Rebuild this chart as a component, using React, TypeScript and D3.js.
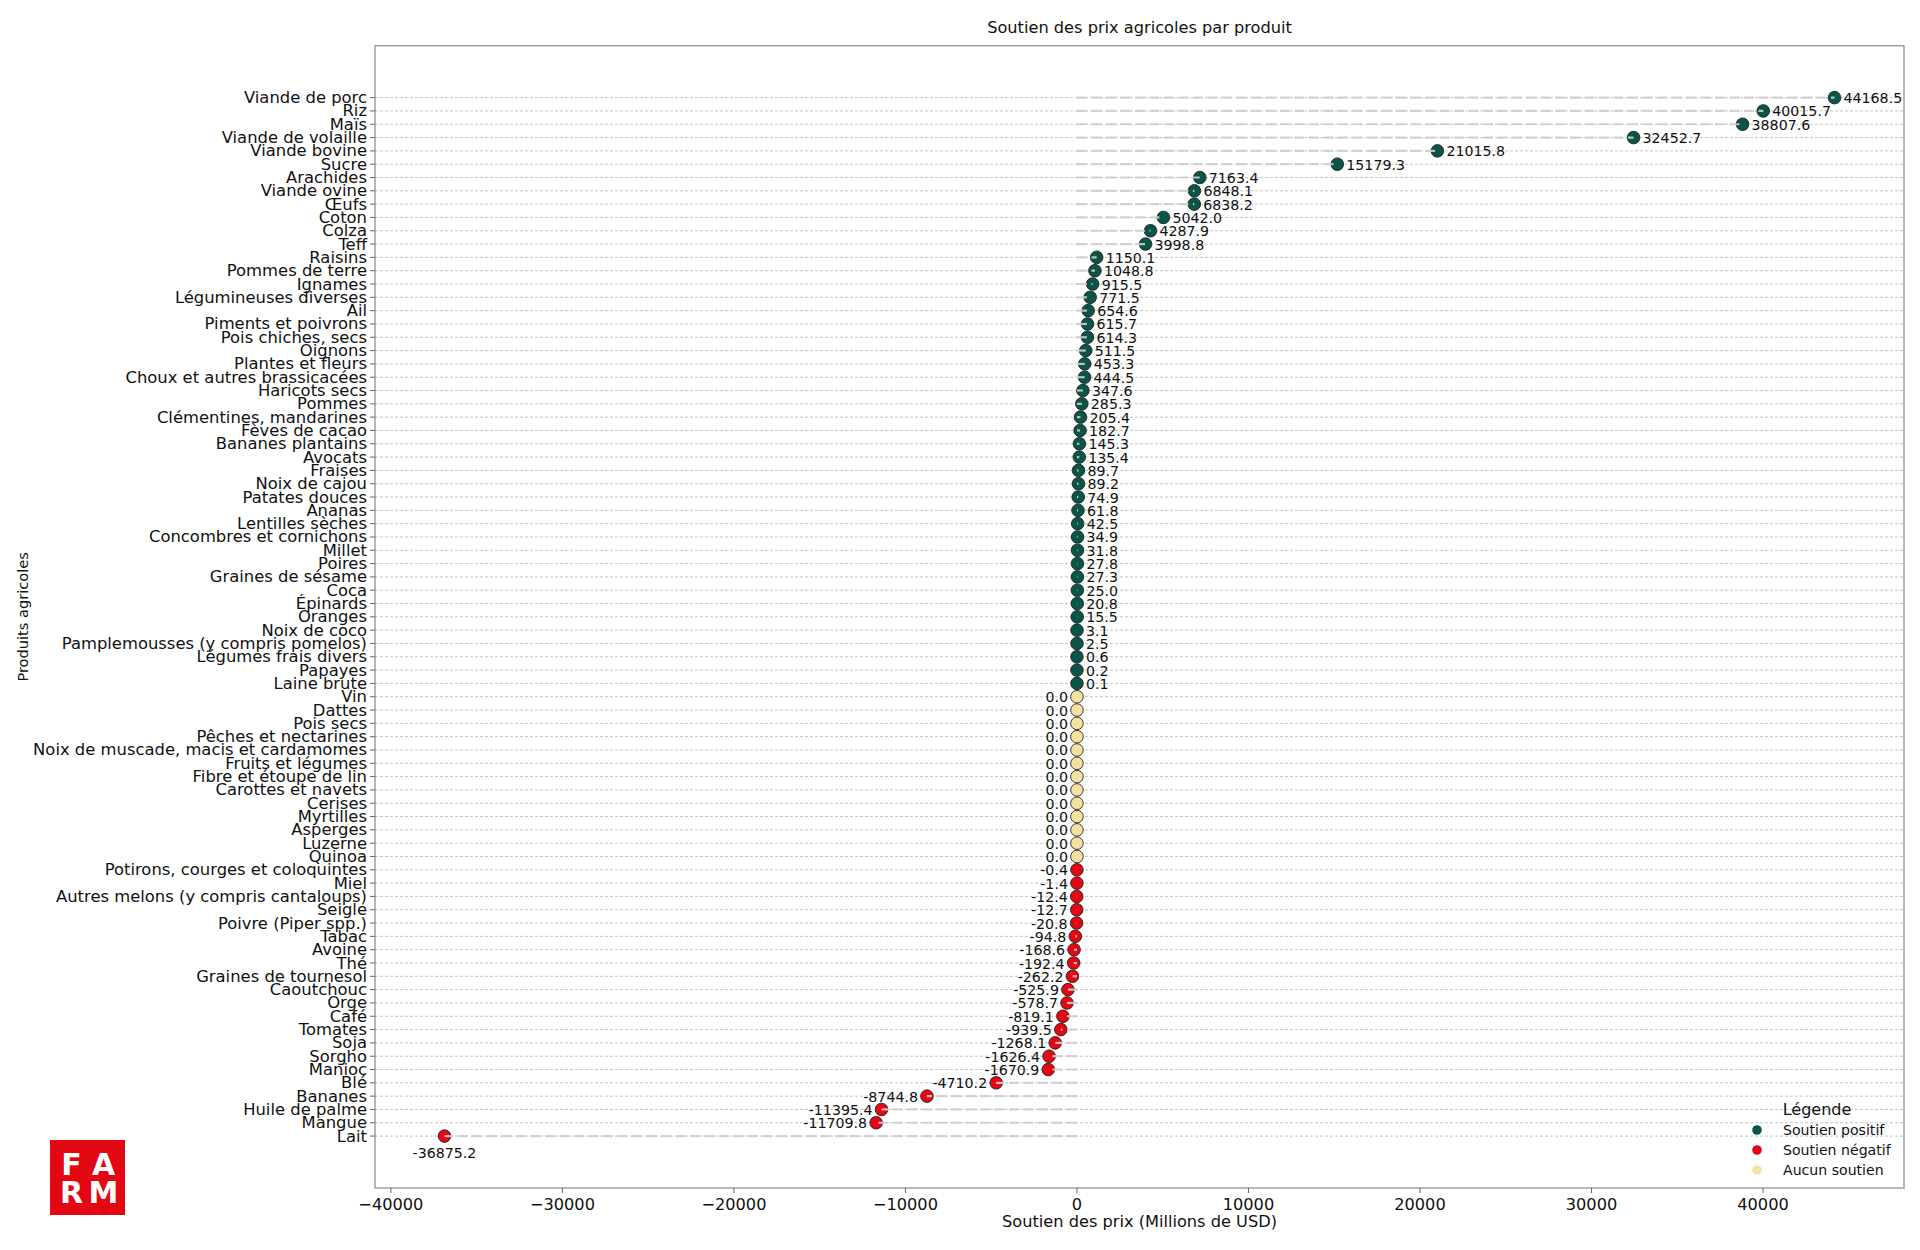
import React from "react";
import * as d3 from "d3";

const categories: string[] = [
  "Viande de porc", "Riz", "Maïs", "Viande de volaille", "Viande bovine", "Sucre", "Arachides",
  "Viande ovine", "Œufs", "Coton", "Colza", "Teff", "Raisins", "Pommes de terre", "Ignames",
  "Légumineuses diverses", "Ail", "Piments et poivrons", "Pois chiches, secs", "Oignons",
  "Plantes et fleurs", "Choux et autres brassicacées", "Haricots secs", "Pommes",
  "Clémentines, mandarines", "Fèves de cacao", "Bananes plantains", "Avocats", "Fraises",
  "Noix de cajou", "Patates douces", "Ananas", "Lentilles sèches", "Concombres et cornichons",
  "Millet", "Poires", "Graines de sésame", "Coca", "Épinards", "Oranges", "Noix de coco",
  "Pamplemousses (y compris pomelos)", "Légumes frais divers", "Papayes", "Laine brute",
  "Vin", "Dattes", "Pois secs", "Pêches et nectarines", "Noix de muscade, macis et cardamomes",
  "Fruits et légumes", "Fibre et étoupe de lin", "Carottes et navets", "Cerises", "Myrtilles",
  "Asperges", "Luzerne", "Quinoa", "Potirons, courges et coloquintes", "Miel",
  "Autres melons (y compris cantaloups)", "Seigle", "Poivre (Piper spp.)", "Tabac", "Avoine",
  "Thé", "Graines de tournesol", "Caoutchouc", "Orge", "Café", "Tomates", "Soja", "Sorgho",
  "Manioc", "Blé", "Bananes", "Huile de palme", "Mangue", "Lait",
];

const values: number[] = [
  44168.5, 40015.7, 38807.6, 32452.7, 21015.8, 15179.3, 7163.4, 6848.1, 6838.2, 5042.0,
  4287.9, 3998.8, 1150.1, 1048.8, 915.5, 771.5, 654.6, 615.7, 614.3, 511.5, 453.3, 444.5,
  347.6, 285.3, 205.4, 182.7, 145.3, 135.4, 89.7, 89.2, 74.9, 61.8, 42.5, 34.9, 31.8, 27.8,
  27.3, 25.0, 20.8, 15.5, 3.1, 2.5, 0.6, 0.2, 0.1,
  0, 0, 0, 0, 0, 0, 0, 0, 0, 0, 0, 0, 0,
  -0.4, -1.4, -12.4, -12.7, -20.8, -94.8, -168.6, -192.4, -262.2, -525.9, -578.7, -819.1,
  -939.5, -1268.1, -1626.4, -1670.9, -4710.2, -8744.8, -11395.4, -11709.8, -36875.2,
];

const xTicks: number[] = [-40000, -30000, -20000, -10000, 0, 10000, 20000, 30000, 40000];

const legendLabels: string[] = ["Soutien positif", "Soutien négatif", "Aucun soutien"];
const legendColors: string[] = ["#0b5448", "#e30613", "#f3e2a2"];

const FONT = "DejaVu Sans";

export default function App() {
  const W = 1920, H = 1250;
  const left = 375, right = 1904, top = 45.7, bottom = 1188;
  const vmin = d3.min(values)!;
  const vmax = d3.max(values)!;
  const pad = (vmax - vmin) * 0.05;
  const x = d3.scaleLinear().domain([vmin - pad, vmax + pad]).range([left, right]);
  const n = categories.length;
  const ypad = (n - 1) * 0.05;
  const y = d3.scaleLinear().domain([-ypad, n - 1 + ypad]).range([top, bottom]);

  const colorOf = (v: number) => (v > 0 ? legendColors[0] : v < 0 ? legendColors[1] : legendColors[2]);
  const fmtTick = (v: number) => (v < 0 ? "\u2212" + Math.abs(v) : String(v));

  return (
    <svg width={W} height={H} style={{ position: "absolute", left: 0, top: 0, background: "#fff" }}
      fontFamily={FONT}>
      <rect x={0} y={0} width={W} height={H} fill="#fff" />
      {/* title */}
      <text x={(left + right) / 2} y={33} textAnchor="middle" fontSize={16.2} fill="#111">
        Soutien des prix agricoles par produit
      </text>
      {/* grid */}
      {categories.map((c, i) => (
        <line key={"g" + i} x1={left} x2={right} y1={y(i)} y2={y(i)} stroke="#b5b5b5"
          strokeWidth={0.8} strokeDasharray="3,2" />
      ))}
      {/* markers */}
      {values.map((v, i) => (
        <circle key={"m" + i} cx={x(v)} cy={y(i)} r={6.3} fill={colorOf(v)} stroke="#222" strokeWidth={0.9} />
      ))}
      {/* stems from 0 to value, drawn on top */}
      {values.map((v, i) => (
        <line key={"s" + i} x1={x(0)} x2={x(v)} y1={y(i)} y2={y(i)} stroke="#cfcfcf"
          strokeWidth={2.2} strokeDasharray="10,4.5" opacity={0.9} />
      ))}
      {/* value labels */}
      {values.map((v, i) => {
        const label = v.toFixed(1);
        if (i === n - 1) {
          return (
            <text key={"l" + i} x={x(v)} y={y(i) + 17} textAnchor="middle" dominantBaseline="central"
              fontSize={14.2} fill="#111">{label}</text>
          );
        }
        const pos = v > 0;
        return (
          <text key={"l" + i} x={x(v) + (pos ? 9 : -9)} y={y(i) + 0.5} textAnchor={pos ? "start" : "end"}
            dominantBaseline="central" fontSize={14.2} fill="#111">{label}</text>
        );
      })}
      {/* spines */}
      <rect x={left} y={top} width={right - left} height={bottom - top} fill="none" stroke="#999"
        strokeWidth={1.4} />
      {/* y ticks */}
      {categories.map((c, i) => (
        <g key={"yt" + i}>
          <line x1={left - 5} x2={left} y1={y(i)} y2={y(i)} stroke="#555" strokeWidth={0.9} />
          <text x={left - 8} y={y(i)} textAnchor="end" dominantBaseline="central" fontSize={16.4}
            fill="#111">{c}</text>
        </g>
      ))}
      {/* x ticks */}
      {xTicks.map((t) => (
        <g key={"xt" + t}>
          <line x1={x(t)} x2={x(t)} y1={bottom} y2={bottom + 5} stroke="#555" strokeWidth={0.9} />
          <text x={x(t)} y={bottom + 10} textAnchor="middle" dominantBaseline="hanging" fontSize={16.2}
            fill="#111">{fmtTick(t)}</text>
        </g>
      ))}
      {/* axis labels */}
      <text x={(left + right) / 2} y={1227} textAnchor="middle" fontSize={16.2} fill="#111">
        Soutien des prix (Millions de USD)
      </text>
      <text transform={`translate(22,${(top + bottom) / 2}) rotate(-90)`} textAnchor="middle"
        dominantBaseline="central" fontSize={14.6} fill="#111">Produits agricoles</text>
      {/* legend */}
      <text x={1817} y={1109} textAnchor="middle" dominantBaseline="central" fontSize={16} fill="#111">Légende</text>
      {legendLabels.map((l, i) => (
        <g key={"lg" + i}>
          <circle cx={1757} cy={1130 + i * 20} r={4.8} fill={legendColors[i]} />
          <text x={1783} y={1130 + i * 20} dominantBaseline="central" fontSize={14.1} fill="#111">{l}</text>
        </g>
      ))}
      {/* FARM logo */}
      <rect x={50} y={1140} width={75} height={75} fill="#e30613" />
      <text x={71.5} y={1175} textAnchor="middle" fontSize={30} fontWeight="bold" fill="#fff"
        fontFamily="DejaVu Sans">F</text>
      <text x={103.5} y={1175} textAnchor="middle" fontSize={30} fontWeight="bold" fill="#fff"
        fontFamily="DejaVu Sans">A</text>
      <text x={71.5} y={1203} textAnchor="middle" fontSize={30} fontWeight="bold" fill="#fff"
        fontFamily="DejaVu Sans">R</text>
      <text x={103.5} y={1203} textAnchor="middle" fontSize={30} fontWeight="bold" fill="#fff"
        fontFamily="DejaVu Sans">M</text>
    </svg>
  );
}
